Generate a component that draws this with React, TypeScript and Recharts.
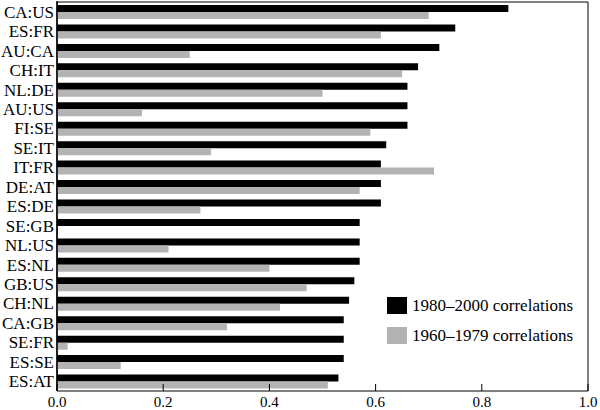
import { BarChart, Bar, XAxis, YAxis, Legend, ReferenceArea } from 'recharts'

const pairs = ['CA:US', 'ES:FR', 'AU:CA', 'CH:IT', 'NL:DE', 'AU:US', 'FI:SE', 'SE:IT', 'IT:FR', 'DE:AT', 'ES:DE', 'SE:GB', 'NL:US', 'ES:NL', 'GB:US', 'CH:NL', 'CA:GB', 'SE:FR', 'ES:SE', 'ES:AT']
const recent = [0.85, 0.75, 0.72, 0.68, 0.66, 0.66, 0.66, 0.62, 0.61, 0.61, 0.61, 0.57, 0.57, 0.57, 0.56, 0.55, 0.54, 0.54, 0.54, 0.53]
const early = [0.70, 0.61, 0.25, 0.65, 0.50, 0.16, 0.59, 0.29, 0.71, 0.57, 0.27, 0, 0.21, 0.40, 0.47, 0.42, 0.32, 0.02, 0.12, 0.51]
const xTicks = [0, 0.2, 0.4, 0.6, 0.8, 1.0]
const seriesNames = ['1980–2000 correlations', '1960–1979 correlations']

const data = pairs.map((name, i) => ({ name, recent: recent[i], early: early[i] }))

const font = 'Liberation Serif, Times New Roman, serif'

// bottom ticks point up into the plot, labels sit below the frame
const renderXTick = (props: any) => {
  const { x, y, payload } = props
  return (
    <g key={payload.value}>
      <line x1={x} x2={x} y1={y} y2={y - 7} stroke="#000" />
      <text x={x} y={y + 16} textAnchor="middle" style={{ fontFamily: font, fontSize: 15 }} fill="#000">
        {Number(payload.value).toFixed(1)}
      </text>
    </g>
  )
}

const renderYTick = (props: any) => {
  const { x, y, payload } = props
  return (
    <text key={payload.value} x={x} y={y} dy={6} textAnchor="end" style={{ fontFamily: font, fontSize: 17 }} fill="#000">
      {payload.value}
    </text>
  )
}

const LegendBox = ({ payload }: any) => {
  const items = [...(payload || [])].sort((a: any, b: any) => seriesNames.indexOf(a.value) - seriesNames.indexOf(b.value))
  return (
    <div style={{ fontFamily: font, fontSize: 17, color: '#000' }}>
      {items.map((p: any) => (
        <div key={p.value} style={{ display: 'flex', alignItems: 'center', height: 17, marginBottom: 13 }}>
          <span style={{ width: 20, height: 17, background: p.color, marginRight: 5, display: 'inline-block' }} />
          {p.value}
        </div>
      ))}
    </div>
  )
}

export default function App() {
  return (
    <div style={{ position: 'absolute', left: 0, top: 0, background: '#fff', fontFamily: font }}>
      <BarChart width={600} height={410} data={data} layout="vertical" style={{ fontFamily: font }}
        margin={{ top: 1, right: 12, bottom: 0, left: 0 }} barGap={0} barSize={7}>
        <XAxis type="number" domain={[0, 1]} ticks={xTicks} axisLine={false} tickLine={false}
          tickSize={0} tickMargin={0} height={19} tick={renderXTick} interval={0} />
        <YAxis type="category" dataKey="name" width={57} tickLine={false} tickSize={0} tickMargin={3}
          padding={{ top: 1, bottom: 0 }}
          axisLine={{ stroke: '#000', strokeWidth: 1.5 }} interval={0} tick={renderYTick} />
        <ReferenceArea x1={0} x2={1} fill="none" stroke="#000" strokeWidth={1} />
        <Bar dataKey="recent" name={seriesNames[0]} fill="#000" isAnimationActive={false} />
        <Bar dataKey="early" name={seriesNames[1]} fill="#b3b3b3" isAnimationActive={false} />
        <Legend layout="vertical" align="center" verticalAlign="middle" content={<LegendBox />}
          wrapperStyle={{ left: 387, top: 297, width: 200 }} />
      </BarChart>
    </div>
  )
}
